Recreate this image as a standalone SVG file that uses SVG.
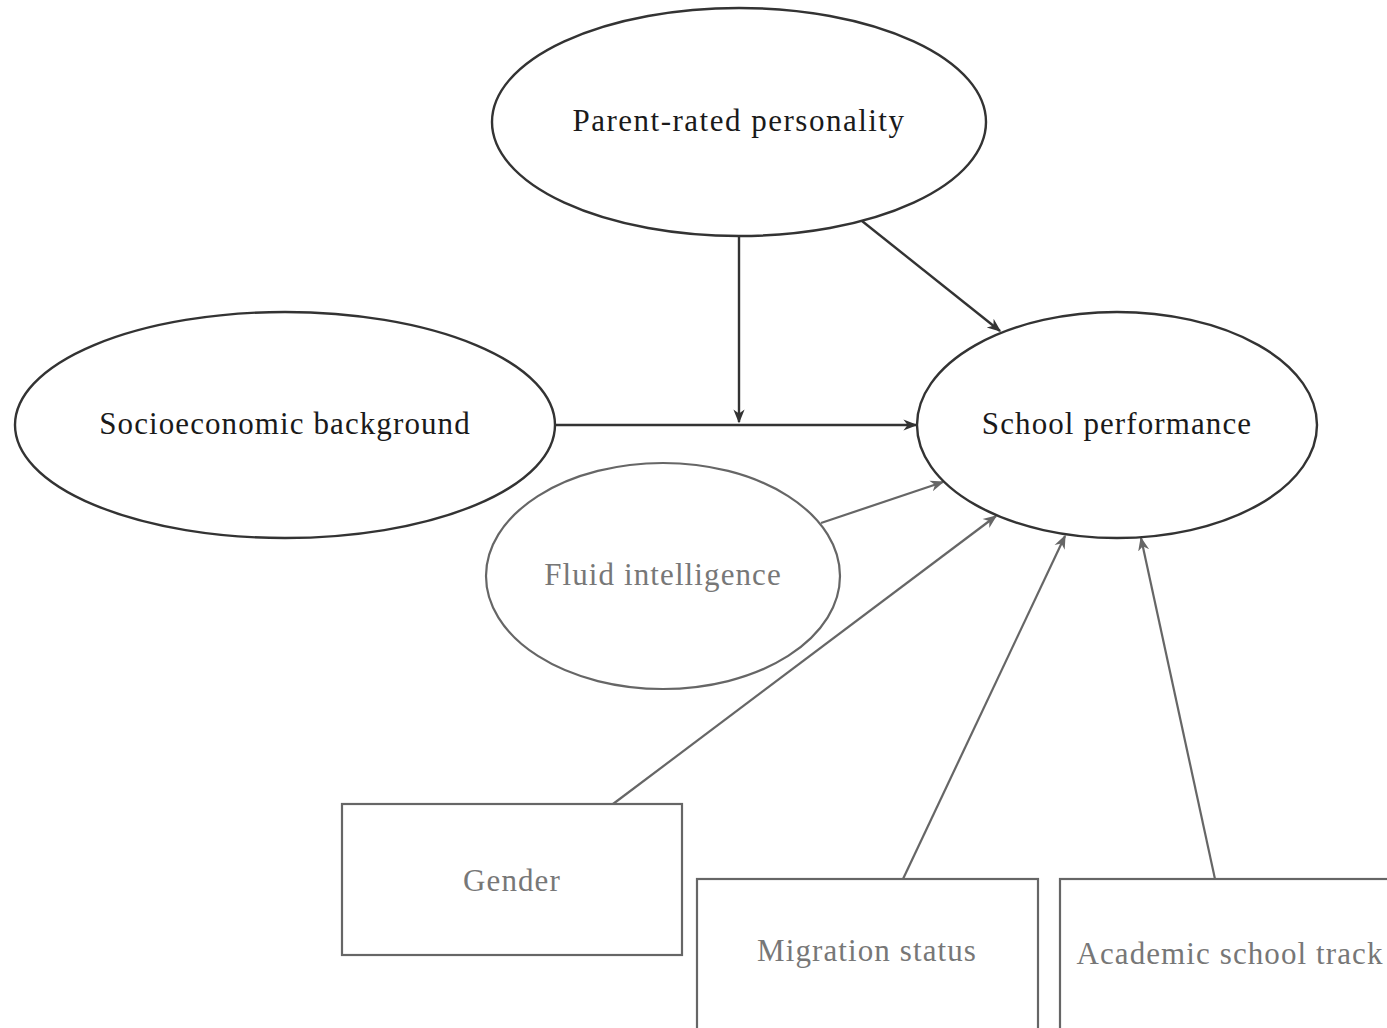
<svg xmlns="http://www.w3.org/2000/svg" width="1387" height="1028" viewBox="0 0 1387 1028">
  <style>
    .lbl { font-family: "Liberation Serif", "DejaVu Serif", serif; font-size: 31px; letter-spacing: 1.1px; text-anchor: middle; }
    .dark { fill: none; stroke: #333333; stroke-width: 2.4; }
    .grey { fill: none; stroke: #666666; stroke-width: 2.2; }
    .tdark { fill: #1a1a1a; }
    .tgrey { fill: #777777; }
  </style>
  <defs>
    <marker id="ahDark" viewBox="0 0 10 10" refX="9" refY="5" markerWidth="14" markerHeight="14" markerUnits="userSpaceOnUse" orient="auto">
      <path d="M0,1 L10,5 L0,9 L3,5 Z" fill="#333333"/>
    </marker>
    <marker id="ahGrey" viewBox="0 0 10 10" refX="9" refY="5" markerWidth="14" markerHeight="14" markerUnits="userSpaceOnUse" orient="auto">
      <path d="M0,1 L10,5 L0,9 L3,5 Z" fill="#666666"/>
    </marker>
  </defs>
  <rect width="1387" height="1028" fill="#ffffff"/>

  <g id="connectors">
    <line class="dark" x1="739" y1="236" x2="739" y2="422" marker-end="url(#ahDark)"/>
    <line class="dark" x1="555" y1="425" x2="916" y2="425" marker-end="url(#ahDark)"/>
    <line class="dark" x1="862" y1="221" x2="1000" y2="331" marker-end="url(#ahDark)"/>
    <line class="grey" x1="821" y1="523" x2="943" y2="482" marker-end="url(#ahGrey)"/>
    <line class="grey" x1="613" y1="804" x2="996" y2="516" marker-end="url(#ahGrey)"/>
    <line class="grey" x1="903" y1="879" x2="1065" y2="536" marker-end="url(#ahGrey)"/>
    <line class="grey" x1="1215" y1="879" x2="1141" y2="538" marker-end="url(#ahGrey)"/>
  </g>

  <g id="parent">
    <ellipse class="dark" cx="739" cy="122" rx="247" ry="114"/>
    <text class="lbl tdark" x="739" y="131" style="letter-spacing:1.5px">Parent-rated personality</text>
  </g>
  <g id="socio">
    <ellipse class="dark" cx="285" cy="425" rx="270" ry="113"/>
    <text class="lbl tdark" x="285" y="434">Socioeconomic background</text>
  </g>
  <g id="school">
    <ellipse class="dark" cx="1117" cy="425" rx="200" ry="113"/>
    <text class="lbl tdark" x="1117" y="434">School performance</text>
  </g>
  <g id="fluid">
    <ellipse class="grey" cx="663" cy="576" rx="177" ry="113"/>
    <text class="lbl tgrey" x="663" y="585">Fluid intelligence</text>
  </g>
  <g id="gender">
    <rect class="grey" x="342" y="804" width="340" height="151"/>
    <text class="lbl tgrey" x="512" y="891">Gender</text>
  </g>
  <g id="migration">
    <rect class="grey" x="697" y="879" width="341" height="160"/>
    <text class="lbl tgrey" x="867" y="961">Migration status</text>
  </g>
  <g id="academic">
    <rect class="grey" x="1060" y="879" width="341" height="160"/>
    <text class="lbl tgrey" x="1230" y="964">Academic school track</text>
  </g>
</svg>
